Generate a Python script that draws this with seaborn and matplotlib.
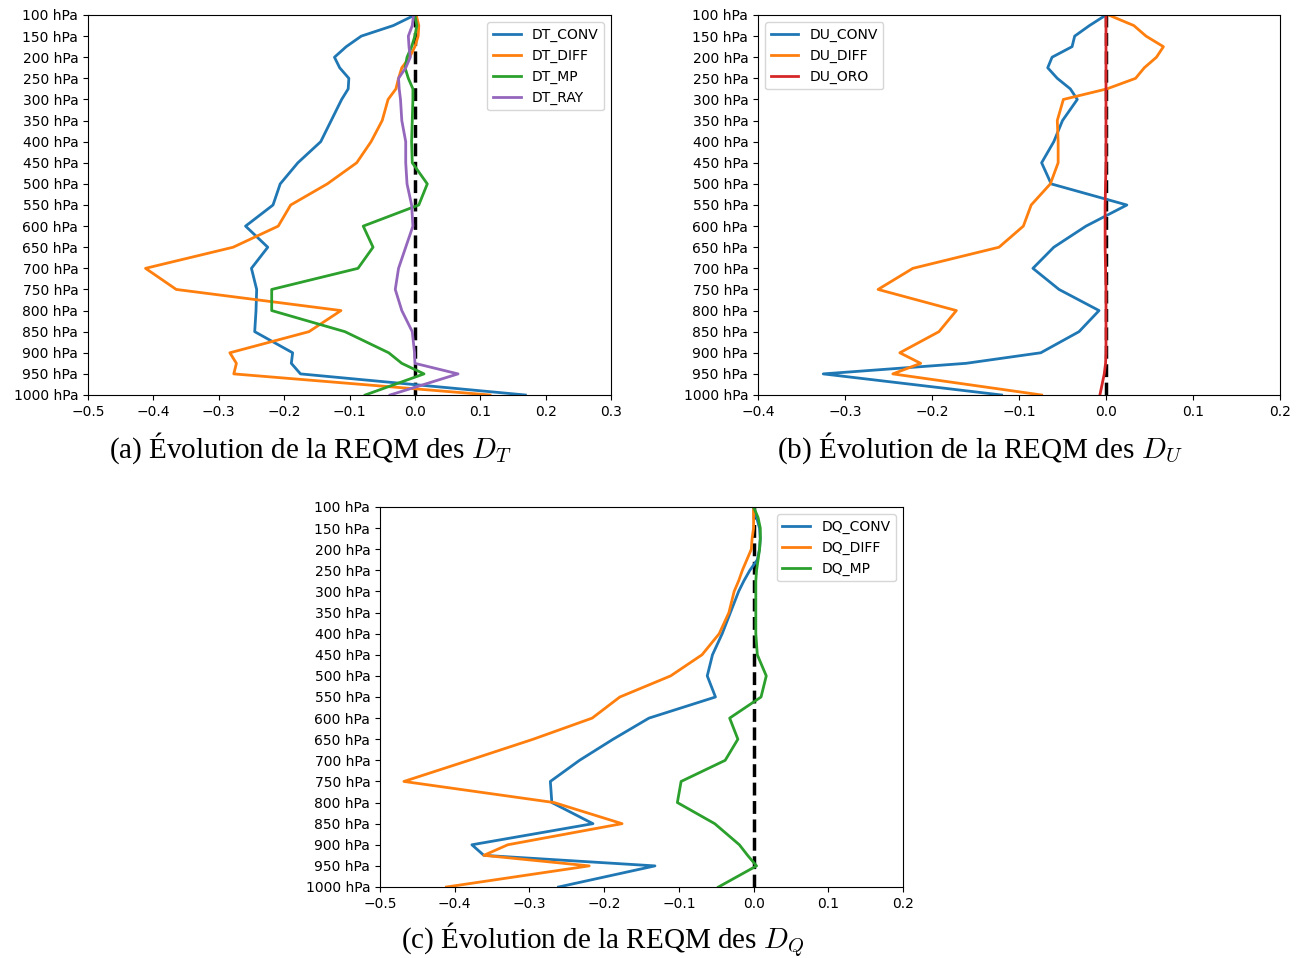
import numpy as np
import pandas as pd
import matplotlib
matplotlib.use("Agg")
import matplotlib.pyplot as plt
import seaborn as sns

levels = [100, 125, 150, 175, 200, 225, 250, 275, 300, 350, 400, 450, 500,
          550, 600, 650, 700, 750, 800, 850, 900, 925, 950, 1000]

# Panel (a)
dt_conv = [0.0, -0.033, -0.082, -0.105, -0.123, -0.115, -0.101, -0.102, -0.112, -0.128,
           -0.144, -0.179, -0.206, -0.217, -0.259, -0.225, -0.250, -0.242, -0.243, -0.245,
           -0.187, -0.189, -0.175, 0.169]
dt_diff = [0.002, 0.006, 0.005, 0.0, -0.008, -0.020, -0.025, -0.029, -0.041, -0.050,
           -0.067, -0.089, -0.134, -0.190, -0.209, -0.278, -0.412, -0.365, -0.113, -0.162,
           -0.283, -0.273, -0.277, 0.115]
dt_mp = [0.0, 0.003, 0.0, -0.005, -0.012, -0.015, -0.010, -0.003, -0.003, -0.004,
         -0.005, -0.004, 0.019, 0.006, -0.079, -0.064, -0.087, -0.219, -0.219, -0.107,
         -0.040, -0.020, 0.014, -0.076]
dt_ray = [-0.002, -0.004, -0.010, -0.009, -0.007, -0.014, -0.025, -0.024, -0.022, -0.020,
          -0.014, -0.014, -0.012, -0.005, -0.003, -0.014, -0.025, -0.030, -0.020, -0.004,
          -0.0005, 0.0, 0.066, -0.038]

# Panel (b)
du_conv = [0.0, -0.019, -0.036, -0.039, -0.062, -0.067, -0.056, -0.041, -0.033, -0.050,
           -0.060, -0.074, -0.063, 0.024, -0.023, -0.060, -0.084, -0.054, -0.008, -0.031,
           -0.075, -0.161, -0.325, -0.120]
du_diff = [0.003, 0.032, 0.046, 0.066, 0.058, 0.044, 0.034, 0.001, -0.049, -0.056,
           -0.055, -0.055, -0.064, -0.086, -0.095, -0.123, -0.222, -0.262, -0.172, -0.192,
           -0.237, -0.213, -0.245, -0.074]
du_oro = [0.0, 0.0, 0.0, 0.0, 0.0, 0.0, 0.0, 0.0, 0.0, 0.0,
          0.0, 0.0, -0.0005, -0.001, -0.001, -0.001, -0.0005, 0.0, 0.0, 0.0,
          0.0, -0.0005, -0.002, -0.007]

# Panel (c)
dq_conv = [0.0, 0.004, 0.008, 0.009, 0.008, 0.005, -0.005, -0.013, -0.020, -0.031,
           -0.042, -0.055, -0.062, -0.051, -0.140, -0.188, -0.233, -0.272, -0.270, -0.215,
           -0.377, -0.361, -0.132, -0.261]
dq_diff = [0.0, 0.0, 0.0, -0.002, -0.003, -0.009, -0.015, -0.020, -0.026, -0.033,
           -0.046, -0.069, -0.111, -0.179, -0.216, -0.295, -0.381, -0.468, -0.267, -0.176,
           -0.329, -0.361, -0.220, -0.411]
dq_mp = [0.0, 0.006, 0.009, 0.009, 0.008, 0.006, 0.004, 0.003, 0.003, 0.003,
         0.003, 0.005, 0.017, 0.010, -0.032, -0.021, -0.038, -0.097, -0.102, -0.052,
         -0.019, -0.008, 0.004, -0.047]

tick_levels = list(range(100, 1001, 50))
tick_labels = [f"{p} hPa" for p in tick_levels]

captions = [r"(a) Évolution de la REQM des $D_T$",
            r"(b) Évolution de la REQM des $D_U$",
            r"(c) Évolution de la REQM des $D_Q$"]

plt.rcParams["mathtext.fontset"] = "cm"
plt.rcParams["font.size"] = 10

fig = plt.figure(figsize=(13.05, 9.58), dpi=100)
W, H = 1305, 958


def make_ax(left, right, top, bottom):
    return fig.add_axes([left / W, 1 - bottom / H, (right - left) / W, (bottom - top) / H])


ax_a = make_ax(88, 611, 15, 395)
ax_b = make_ax(758, 1280, 15, 395)
ax_c = make_ax(380, 903, 507, 887)

palette = sns.color_palette("tab10")
cmap = {"CONV": palette[0], "DIFF": palette[1], "MP": palette[2], "ORO": palette[3], "RAY": palette[4]}

panels = [
    (ax_a, [("DT_CONV", dt_conv), ("DT_DIFF", dt_diff), ("DT_MP", dt_mp), ("DT_RAY", dt_ray)],
     (-0.5, 0.3), "upper right"),
    (ax_b, [("DU_CONV", du_conv), ("DU_DIFF", du_diff), ("DU_ORO", du_oro)],
     (-0.4, 0.2), "upper left"),
    (ax_c, [("DQ_CONV", dq_conv), ("DQ_DIFF", dq_diff), ("DQ_MP", dq_mp)],
     (-0.5, 0.2), "upper right"),
]

for ax, series, xl, loc in panels:
    ax.axvline(0, color="black", linestyle="--", linewidth=2.5, zorder=1)
    frames = []
    for name, vals in series:
        frames.append(pd.DataFrame({"x": vals, "p": levels, "var": name}))
    df = pd.concat(frames, ignore_index=True)
    names = [n for n, _ in series]
    sns.lineplot(data=df, x="x", y="p", hue="var", hue_order=names,
                 palette=[cmap[n.split("_")[1]] for n in names],
                 sort=False, estimator=None, orient="y", linewidth=2, ax=ax)
    ax.set_xlim(*xl)
    ax.set_ylim(1000, 100)
    ax.set_yticks(tick_levels)
    ax.set_yticklabels(tick_labels)
    ax.set_xlabel("")
    ax.set_ylabel("")
    ax.legend(loc=loc, fontsize=10, title=None)

cap_kw = dict(ha="center", va="center", fontsize=21,
              family=["Liberation Serif", "DejaVu Serif"])
fig.text(310 / W, 1 - 448 / H, captions[0], **cap_kw)
fig.text(980 / W, 1 - 448 / H, captions[1], **cap_kw)
fig.text(603 / W, 1 - 940 / H, captions[2], **cap_kw)

fig.savefig("out.png", dpi=100)
